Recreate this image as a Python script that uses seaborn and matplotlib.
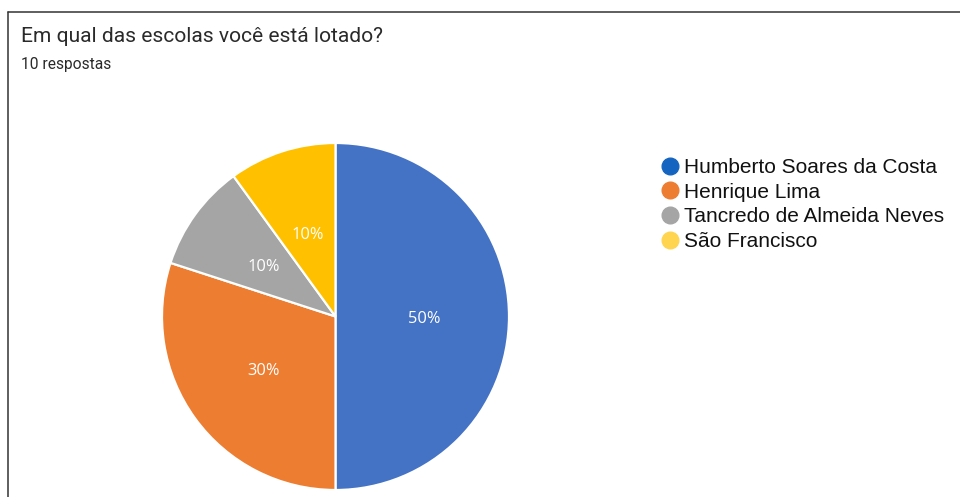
import matplotlib
matplotlib.use("Agg")
import matplotlib.pyplot as plt
from matplotlib.lines import Line2D
import seaborn as sns

categories = ["Humberto Soares da Costa", "Henrique Lima", "Tancredo de Almeida Neves", "São Francisco"]
values = [5, 3, 1, 1]
pie_colors = ["#4472C4", "#ED7D31", "#A5A5A5", "#FFC000"]
legend_colors = ["#1565C0", "#ED7D31", "#A5A5A5", "#FFD54F"]
title = "Em qual das escolas você está lotado?"
subtitle = "10 respostas"

sns.set_theme(style="white")
plt.rcParams["font.family"] = ["Liberation Sans", "DejaVu Sans"]

W, H = 960, 497
fig = plt.figure(figsize=(W / 100, H / 100), dpi=100)
fig.patch.set_facecolor("white")

cx, cy, r = 335.5, 316.5, 173.5
ax = fig.add_axes([(cx - r) / W, (H - cy - r) / H, 2 * r / W, 2 * r / H])
wedges, texts, autotexts = ax.pie(
    values, colors=pie_colors, startangle=90, counterclock=False,
    autopct=lambda p: f"{p:.0f}%", pctdistance=0.51, radius=1,
    wedgeprops=dict(edgecolor="white", linewidth=1.6),
    textprops=dict(color="white", fontsize=11.8, family=["Open Sans", "DejaVu Sans"]),
)
for t in autotexts:
    x, y = t.get_position()
    t.set_position((x, y - 0.015))
ax.set_xlim(-1.0, 1.0)
ax.set_ylim(-1.0, 1.0)
ax.set_aspect("equal")
ax.axis("off")

# frame lines (top and left)
fig.add_artist(Line2D([8 / W, 960 / W], [1 - 12 / H, 1 - 12 / H], color="#333333", lw=1.1, transform=fig.transFigure))
fig.add_artist(Line2D([8 / W, 8 / W], [1 - 12 / H, 0], color="#333333", lw=1.1, transform=fig.transFigure))

fig.text(21 / W, 1 - 37 / H, title, fontsize=15.1, color="#2a2a2a", va="center", ha="left",
         family=["Roboto", "DejaVu Sans"])
fig.text(21 / W, 1 - 64 / H, subtitle, fontsize=11.2, color="#2a2a2a", va="center", ha="left",
         family=["Roboto", "DejaVu Sans"])

handles = [Line2D([0], [0], marker="o", linestyle="", markersize=12, markerfacecolor=c,
                  markeredgecolor=c) for c in legend_colors]
leg = fig.legend(handles, categories, loc="upper left", bbox_to_anchor=(662 / W, 1 - 158 / H),
                 frameon=False, fontsize=15, handlelength=0.73, handletextpad=0.33,
                 labelspacing=0.27, borderpad=0, borderaxespad=0)
for t in leg.get_texts():
    t.set_color("#111111")

fig.savefig("out.png", dpi=100, facecolor="white")
